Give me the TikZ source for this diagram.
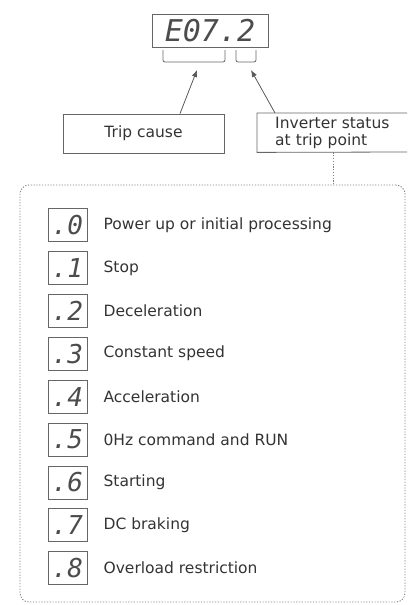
\documentclass[tikz,border=0pt]{standalone}
\usepackage{fontspec}
\setmainfont{DejaVu Sans}
\newfontfamily\segfont{DejaVu Sans Mono}
\usetikzlibrary{positioning, arrows.meta, calc}

\tikzset{
    frame/.style={draw=black!60, line width=0.8pt},
    digitbox/.style={frame, minimum width=39pt, minimum height=33pt, inner sep=0pt,
        text=black!70, font=\segfont\itshape\fontsize{26}{26}\selectfont},
    itemtext/.style={inner sep=0pt, anchor=west, text=black!80,
        font=\fontsize{15.5}{17}\selectfont},
    pointer/.style={draw=black!65, line width=0.8pt, -{Latex[length=7pt, width=5.5pt]}},
    dotline/.style={draw=black!50, line width=0.9pt, dash pattern=on 1.2pt off 1.6pt},
}

\begin{document}
\begin{tikzpicture}[x=1pt, y=-1pt]
            \useasboundingbox (0,0) rectangle (407,605);
            \def\pitch{42.9}

            % display with the trip code
            \node[frame, minimum width=116pt, minimum height=33pt, inner sep=0pt,
                text=black!70, font=\segfont\itshape\fontsize{30}{30}\selectfont]
                (display) at (210,30.5) {E07.2};

            % brackets under the display
            \draw[frame, rounded corners=2pt] (163,50) -- (163,62) -- (225,62) -- (225,50);
            \draw[frame, rounded corners=2pt] (236,50) -- (236,62) -- (256,62) -- (256,50);
            \coordinate (causetip) at (197,70);
            \coordinate (statustip) at (251,70);

            % label boxes
            \node[frame, minimum width=161pt, minimum height=39pt, inner sep=0pt,
                text=black!80, font=\fontsize{15.5}{17}\selectfont]
                (cause) at (143.5,133.5) {Trip cause};
            \node[anchor=north west, minimum height=39pt, text width=140pt,
                inner xsep=18pt, inner ysep=2pt, align=left, text=black!80,
                font=\fontsize{15.5}{17}\selectfont]
                (status) at (257,113) {Inverter status\\at trip point};
            % status box runs off the right side
            \draw[frame] (407,113) -- (status.north west) -- (status.south west) -- (407,152);

            \draw[pointer] ([xshift=36.5pt]cause.north) -- (causetip);
            \draw[pointer] ([xshift=18pt]status.north west) -- (statustip);

            % dotted panel with the status codes
            \node[dotline, rounded corners=9pt, minimum width=385pt, minimum height=417pt]
                (panel) at (212.5,393.5) {};
            \draw[dotline] ([xshift=76pt]status.south west) -- ([xshift=76pt]status.south west |- panel.north);

            \foreach \n/\txt in {0/Power up or initial processing, 1/Stop, 2/Deceleration,
                3/Constant speed, 4/Acceleration, 5/0Hz command and RUN, 6/Starting,
                7/DC braking, 8/Overload restriction}{
                \node[digitbox] (d\n) at (67.5, {225+\n*\pitch}) {.\n};
                \node[itemtext, right=16pt of d\n] (t\n) {\txt};
            }
\end{tikzpicture}
\end{document}
